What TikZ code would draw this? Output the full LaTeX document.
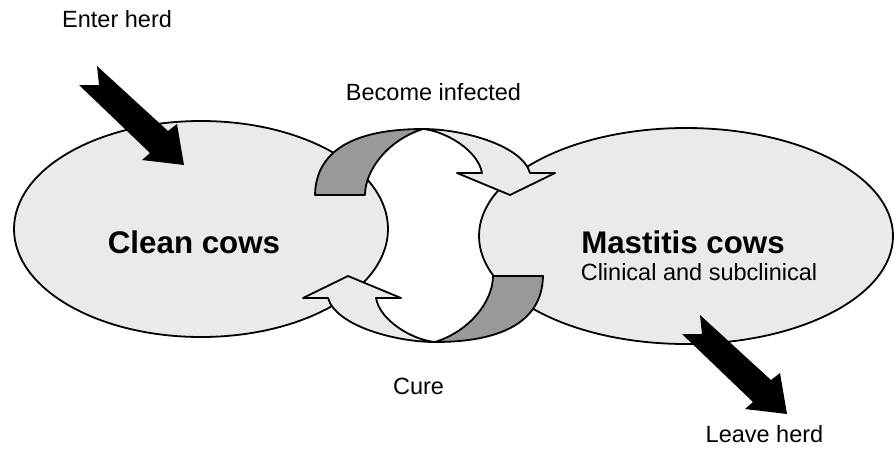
\documentclass[tikz,border=0pt]{standalone}
\usepackage{fontspec}
\setmainfont{Liberation Sans}
\usetikzlibrary{shapes.geometric}
\definecolor{cowfill}{RGB}{234,234,234}
\definecolor{ribgrey}{RGB}{153,153,153}
\tikzset{
  herd/.style={draw=black, line width=1.8pt, fill=cowfill, ellipse, inner sep=0pt},
  ribbonline/.style={draw=black, line width=1.8pt, line join=round},
  blockarrow/.style={fill=black},
  lbl/.style={font=\fontsize{23.5}{28}\selectfont, inner sep=0pt},
  titletext/.style={font=\fontsize{31.3}{37}\selectfont\bfseries, inner sep=0pt},
}
\newcommand{\cycribbon}{%
  \path[ribbonline, fill=ribgrey] (315,195) .. controls (316,146) and (362,129) .. (423,129)
    .. controls (388,140) and (365,170) .. (365,195) -- cycle;
  \path[ribbonline, fill=cowfill] (423,129) .. controls (462,129) and (522,145) .. (530,173)
    -- (555,173) -- (510,195) -- (457,173) -- (482,173)
    .. controls (478,150) and (445,131) .. (423,129) -- cycle;
}
\newcommand{\herdarrow}[1]{%
  \fill[blockarrow, shift={#1}] (97,66) -- (168,131) -- (177,124) -- (184,165)
    -- (142,160) -- (150,153) -- (79,85) -- (99,85) -- cycle;
}
\begin{document}
\begin{tikzpicture}[x=1pt, y=-1pt]
\useasboundingbox (0,0) rectangle (894,448);
% herds
\node[herd, minimum width=374pt, minimum height=216pt] (clean) at (201,229) {};
\node[herd, minimum width=414pt, minimum height=216pt] (mastitis) at (686,236) {};
% circular arrows
\cycribbon
\begin{scope}[rotate around={180:(429,235.5)}]
  \cycribbon
\end{scope}
% enter / leave arrows
\herdarrow{(0,0)}
\herdarrow{(603,249)}
% texts
\node[titletext, anchor=base] (cleantxt) at (194,253) {Clean cows};
\node[titletext, anchor=base] (mastxt) at (683,253) {Mastitis cows};
\node[lbl, anchor=base] (subtxt) at (699,280) {Clinical and subclinical};
\node[lbl, anchor=base west] (enter) at (62,27) {Enter herd};
\node[lbl, anchor=base] (become) at (433.5,100) {Become infected};
\node[lbl, anchor=base] (cure) at (418.5,394) {Cure};
\node[lbl, anchor=base] (leave) at (764.5,442) {Leave herd};
\end{tikzpicture}
\end{document}
